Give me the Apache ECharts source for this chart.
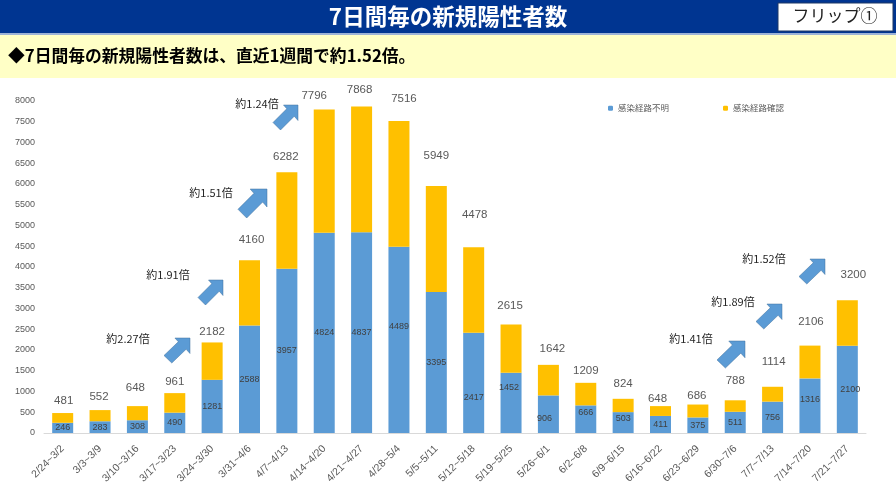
<!DOCTYPE html>
<html>
<head>
<meta charset="utf-8">
<style>html,body{margin:0;padding:0;background:#fff}#main{width:896px;height:504px}</style>
<script src="https://cdn.jsdelivr.net/npm/echarts@6/dist/echarts.min.js"></script>
</head>
<body>
<div id="main"></div>
<script>
// 週ごとのデータ
var categories = ['2/24~3/2','3/3~3/9','3/10~3/16','3/17~3/23','3/24~3/30','3/31~4/6','4/7~4/13','4/14~4/20','4/21~4/27','4/28~5/4','5/5~5/11','5/12~5/18','5/19~5/25','5/26~6/1','6/2~6/8','6/9~6/15','6/16~6/22','6/23~6/29','6/30~7/6','7/7~7/13','7/14~7/20','7/21~7/27'];
var totals = [481,552,648,961,2182,4160,6282,7796,7868,7516,5949,4478,2615,1642,1209,824,648,686,788,1114,2106,3200];
var unknownRoute = [246,283,308,490,1281,2588,3957,4824,4837,4489,3395,2417,1452,906,666,503,411,375,511,756,1316,2100];
var knownRoute = [235,269,340,471,901,1572,2325,2972,3031,3027,2554,2061,1163,736,543,321,237,311,277,358,790,1100];
var ratios = ['約2.27倍','約1.91倍','約1.51倍','約1.24倍','約1.41倍','約1.89倍','約1.52倍'];

// ラベルの手動オフセット(元の図で手で動かされている分)
var totalOffsets = [[1,-6],[-1,-7],[-2,-12],[0,-5],[0,-5],[2,-15],[-1,-9],[-10,-8],[-2,-11],[5,-16],[0,-24],[1,-26],[-1,-13],[4,-10],[0,-6],[0,-9],[-3,-1],[-1,-3],[0,-13],[1,-19],[1,-18],[6,-19]];
var unknownOffsets = {9:[0,-13],11:[0,15],12:[-2,-15],13:[-4,4],14:[0,-7],15:[0,-4],20:[0,-6],21:[3,0]};

// 矢印 [先端x, 先端y, 幅, 高さ] とラベル中心
var arrows = [[190,338,26,25],[223,280,25,25],[267,189,29,29],[298,105,25,25],[745,341,28,27],[782,304,26,25],[825,259,26,25]];
var ratioPos = [[128,339],[168,275],[211,193],[257,104],[691,339],[733,302],[764,259]];

var graphics = [
    {type:'rect',shape:{x:0,y:0,width:896,height:33},style:{fill:'#003591'}},
    {type:'rect',shape:{x:0,y:33,width:896,height:2},style:{fill:'#9DB3D6'}},
    {type:'rect',shape:{x:0,y:35,width:896,height:43},style:{fill:'#FFFFC6'}},
    {type:'text',x:448,y:16,style:{text:'7日間毎の新規陽性者数',fill:'#fff',font:'bold 22.5px "Noto Sans CJK JP"',align:'center',verticalAlign:'middle'}},
    {type:'rect',shape:{x:778,y:3,width:115,height:28},style:{fill:'#fff',stroke:'#1F3864',lineWidth:1}},
    {type:'text',x:835,y:16,style:{text:'フリップ①',fill:'#222',font:'17px "Noto Sans CJK JP"',align:'center',verticalAlign:'middle'}},
    {type:'text',x:8,y:56,style:{text:'◆7日間毎の新規陽性者数は、直近1週間で約1.52倍。',fill:'#000',font:'bold 16.8px "Noto Sans CJK JP"',align:'left',verticalAlign:'middle'}}
];
for (var i = 0; i < arrows.length; i++) {
    var a = arrows[i];
    var shape = [[0,0],[0,.62],[-.15,.45],[-.7,1],[-1,.7],[-.45,.15],[-.58,0]];
    graphics.push({type:'polygon',shape:{points:shape.map(function(p){return [a[0]+p[0]*a[2],a[1]+p[1]*a[3]];})},style:{fill:'#5B9BD5',stroke:'#41719C',lineWidth:0.5}});
    graphics.push({type:'text',x:ratioPos[i][0],y:ratioPos[i][1],style:{text:ratios[i],fill:'#262626',font:'11px "Noto Sans CJK JP"',align:'center',verticalAlign:'middle'}});
}

var myChart = echarts.init(document.getElementById('main'));
var option = {
    animation:false,
    backgroundColor:'#fff',
    grid:{left:44,right:30,top:101,bottom:71},
    legend:{
        data:['感染経路不明','感染経路確認'],
        left:603,top:99,
        itemWidth:5,itemHeight:5,itemGap:54,
        textStyle:{color:'#595959',fontSize:8.5,fontFamily:'"Noto Sans CJK JP"'}
    },
    xAxis:{
        type:'category',
        data:categories,
        axisTick:{show:false},
        axisLine:{lineStyle:{color:'#D9D9D9'}},
        axisLabel:{rotate:45,interval:0,color:'#595959',fontSize:10.5,margin:14,fontFamily:'"Liberation Sans"'}
    },
    yAxis:{
        type:'value',
        min:0,max:8000,interval:500,
        axisLine:{show:false},
        axisTick:{show:false},
        splitLine:{show:false},
        axisLabel:{color:'#595959',fontSize:9,margin:9,fontFamily:'"Liberation Sans"',formatter:function(v){return String(v);}}
    },
    series:[
        {
            name:'感染経路不明',
            type:'bar',
            stack:'a',
            barWidth:21,
            itemStyle:{color:'#5B9BD5'},
            data:unknownRoute.map(function(v,i){
                return {value:v,label:{offset:unknownOffsets[i]||[0,0]}};
            }),
            label:{show:true,position:'inside',color:'#404040',fontSize:9,fontFamily:'"Liberation Sans"'}
        },
        {
            name:'感染経路確認',
            type:'bar',
            stack:'a',
            barWidth:21,
            itemStyle:{color:'#FFC000'},
            data:knownRoute.map(function(v,i){
                return {value:v,label:{offset:totalOffsets[i]}};
            }),
            label:{
                show:true,position:'top',distance:0,color:'#595959',fontSize:11.5,fontFamily:'"Liberation Sans"',
                formatter:function(p){return totals[p.dataIndex];}
            }
        }
    ],
    graphic:graphics
};
myChart.setOption(option);
</script>
</body>
</html>
